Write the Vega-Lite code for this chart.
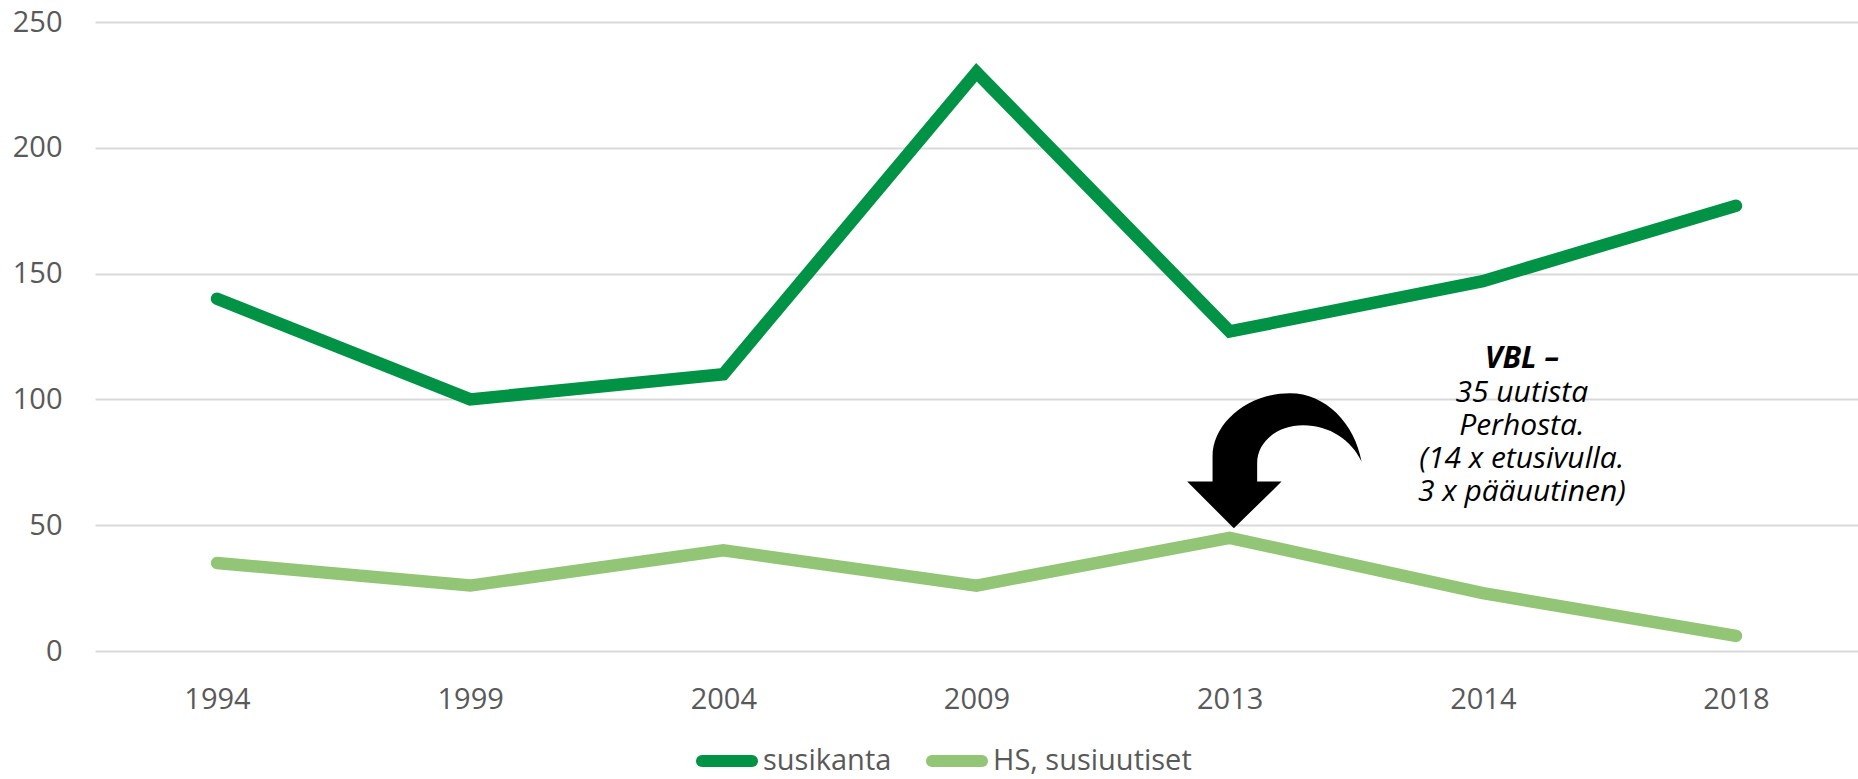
{
  "$schema": "https://vega.github.io/schema/vega-lite/v6.json",
  "width": 1763,
  "height": 629,
  "autosize": {"type": "none"},
  "padding": {"left": 95, "top": 22, "right": 0, "bottom": 128},
  "background": "white",
  "config": {"view": {"stroke": null}, "font": "Open Sans"},
  "datasets": {
    "series": [
      {"year": "1994", "series": "susikanta", "value": 140},
      {"year": "1999", "series": "susikanta", "value": 100},
      {"year": "2004", "series": "susikanta", "value": 110},
      {"year": "2009", "series": "susikanta", "value": 230},
      {"year": "2013", "series": "susikanta", "value": 127},
      {"year": "2014", "series": "susikanta", "value": 147},
      {"year": "2018", "series": "susikanta", "value": 177},
      {"year": "1994", "series": "HS, susiuutiset", "value": 35},
      {"year": "1999", "series": "HS, susiuutiset", "value": 26},
      {"year": "2004", "series": "HS, susiuutiset", "value": 40},
      {"year": "2009", "series": "HS, susiuutiset", "value": 26},
      {"year": "2013", "series": "HS, susiuutiset", "value": 45},
      {"year": "2014", "series": "HS, susiuutiset", "value": 23},
      {"year": "2018", "series": "HS, susiuutiset", "value": 6}
    ],
    "note": [
      {"head": "VBL –", "body": "35 uutista\nPerhosta.\n(14 x etusivulla.\n3 x pääuutinen)"}
    ]
  },
  "layer": [
    {
      "data": {"name": "series"},
      "mark": {"type": "line", "strokeWidth": 12.5, "strokeCap": "round", "strokeJoin": "miter"},
      "encoding": {
        "x": {
          "field": "year", "type": "ordinal",
          "scale": {"type": "point", "padding": 0.482, "domain": ["1994", "1999", "2004", "2009", "2013", "2014", "2018"]},
          "axis": {"title": null, "labelAngle": 0, "domain": false, "ticks": false, "grid": false, "labelPadding": 34, "labelFontSize": 29, "labelColor": "#595959", "labelFont": "Open Sans"}
        },
        "y": {
          "field": "value", "type": "quantitative",
          "scale": {"domain": [0, 250], "nice": false},
          "axis": {"title": null, "values": [0, 50, 100, 150, 200, 250], "grid": true, "gridColor": "#D9D9D9", "gridWidth": 2, "domain": false, "ticks": false, "labelPadding": 33, "labelFontSize": 29, "labelColor": "#595959", "labelFont": "Open Sans"}
        },
        "color": {
          "field": "series", "type": "nominal",
          "scale": {"domain": ["susikanta", "HS, susiuutiset"], "range": ["#009245", "#92C575"]},
          "legend": {
            "title": null, "orient": "none", "legendX": 601, "legendY": 708, "direction": "horizontal",
            "symbolType": "stroke", "symbolStrokeWidth": 12, "symbolSize": 2500,
            "labelFontSize": 29, "labelColor": "#595959", "labelFont": "Open Sans", "labelOffset": 5, "labelLimit": 0,
            "columnPadding": 16, "padding": 0,
            "encode": {"symbols": {"update": {"strokeCap": {"value": "round"}}}}
          }
        }
      }
    },
    {
      "data": {"name": "note"},
      "mark": {
        "type": "point", "filled": true, "color": "black", "opacity": 1, "strokeWidth": 0, "size": 40000,
        "shape": "M0.042,0 L0.519,-0.466 L0.275,-0.466 L0.275,-0.65 C0.275,-0.87 0.48,-1.03 0.735,-1.03 C1.0,-1.03 1.22,-0.88 1.319,-0.666 C1.25,-1.05 0.96,-1.35 0.602,-1.35 C0.18,-1.35 -0.171,-1.05 -0.171,-0.72 L-0.171,-0.466 L-0.425,-0.466 Z"
      },
      "encoding": {
        "x": {"datum": "2013", "type": "ordinal"},
        "y": {"datum": 48.8, "type": "quantitative"}
      }
    },
    {
      "data": {"name": "note"},
      "mark": {"type": "text", "font": "Open Sans", "fontSize": 30, "fontStyle": "italic", "fontWeight": "bold", "align": "center", "baseline": "alphabetic", "dx": 39, "color": "black"},
      "encoding": {
        "x": {"datum": "2014", "type": "ordinal"},
        "y": {"datum": 112.4, "type": "quantitative"},
        "text": {"field": "head"}
      }
    },
    {
      "data": {"name": "note"},
      "mark": {"type": "text", "font": "Open Sans", "fontSize": 30, "fontStyle": "italic", "align": "center", "baseline": "alphabetic", "dx": 39, "lineHeight": 33, "lineBreak": "\n", "color": "black"},
      "encoding": {
        "x": {"datum": "2014", "type": "ordinal"},
        "y": {"datum": 99.1, "type": "quantitative"},
        "text": {"field": "body"}
      }
    }
  ]
}
